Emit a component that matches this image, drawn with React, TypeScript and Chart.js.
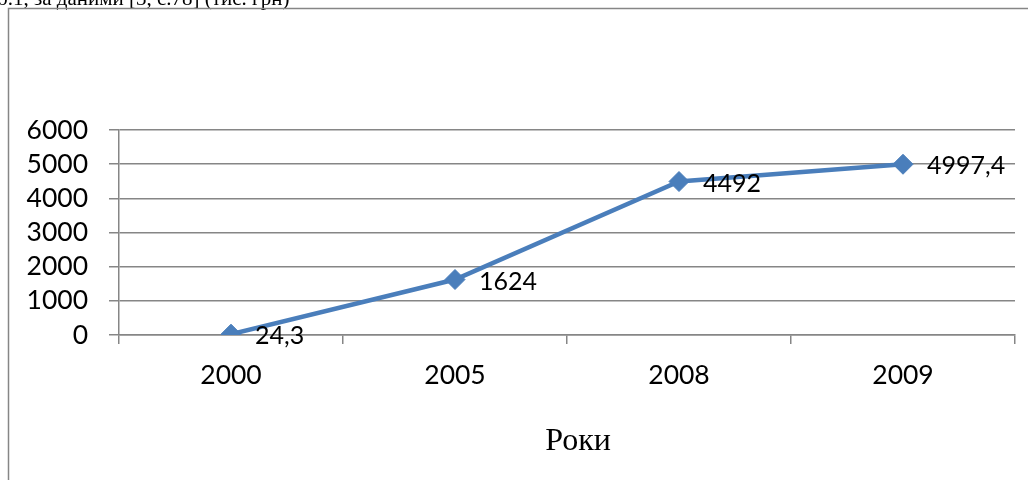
import React, { useEffect, useRef } from "react";
import { Chart, registerables } from "chart.js";

Chart.register(...registerables);

const years = ["2000", "2005", "2008", "2009"];
const values = [24.3, 1624, 4492, 4997.4];
const valueLabels = ["24,3", "1624", "4492", "4997,4"];
const yMin = 0;
const yMax = 6000;
const yStep = 1000;
const axisTitle = "Роки";
const captionText = "б.1, за даними [3, с.78] (тис. грн)";

const GRID = "#868686";
const LINE = "#4A7EBB";
const FONT = "Lato, 'Open Sans', sans-serif";

const decorPlugin = {
  id: "decor",
  beforeDraw(chart: any) {
    const ctx = chart.ctx;
    ctx.save();
    ctx.fillStyle = "#ffffff";
    ctx.fillRect(0, 0, chart.width, chart.height);
    // caption cut off at top
    ctx.fillStyle = "#000";
    ctx.font = "21px 'Liberation Serif', 'Times New Roman', serif";
    ctx.textBaseline = "alphabetic";
    ctx.textAlign = "left";
    ctx.fillText(captionText, -3, 5);
    // frame
    ctx.strokeStyle = GRID;
    ctx.lineWidth = 1.5;
    ctx.beginPath();
    ctx.moveTo(8.5, chart.height + 2);
    ctx.lineTo(8.5, 8.5);
    ctx.lineTo(chart.width + 2, 8.5);
    ctx.stroke();
    ctx.restore();
  },
  afterDraw(chart: any) {
    const ctx = chart.ctx;
    ctx.save();
    ctx.fillStyle = "#000";
    ctx.font = "32px 'Liberation Serif', 'Times New Roman', serif";
    ctx.textAlign = "center";
    ctx.textBaseline = "alphabetic";
    const area = chart.chartArea;
    ctx.fillText(axisTitle, (area.left + area.right) / 2 + 11, 450);
    ctx.restore();
  },
  afterDatasetsDraw(chart: any) {
    const ctx = chart.ctx;
    const meta = chart.getDatasetMeta(0);
    ctx.save();
    ctx.fillStyle = "#000";
    ctx.font = `25px ${FONT}`;
    ctx.textAlign = "left";
    ctx.textBaseline = "middle";
    meta.data.forEach((pt: any, i: number) => {
      ctx.fillText(valueLabels[i], pt.x + 24, pt.y + 2);
    });
    ctx.restore();
  },
};

export default function App() {
  const ref = useRef<HTMLCanvasElement | null>(null);

  useEffect(() => {
    if (!ref.current) return;
    const chart = new Chart(ref.current, {
      type: "line",
      data: {
        labels: years,
        datasets: [
          {
            data: values,
            borderColor: LINE,
            backgroundColor: LINE,
            borderWidth: 4.5,
            tension: 0,
            pointStyle: "rectRot",
            pointRadius: 10,
            pointBackgroundColor: LINE,
            pointBorderColor: LINE,
            pointBorderWidth: 1,
          },
        ],
      },
      options: {
        responsive: false,
        animation: false,
        devicePixelRatio: 1,
        layout: { autoPadding: false, padding: { top: 130, right: 13, left: 0, bottom: 0 } },
        plugins: {
          legend: { display: false },
          title: { display: false },
          tooltip: { enabled: false },
        },
        scales: {
          x: {
            type: "category",
            offset: true,
            afterFit: (scale: any) => {
              scale.height = 145;
            },
            grid: {
              display: true,
              offset: true,
              drawOnChartArea: false,
              drawTicks: true,
              tickLength: 9,
              color: GRID,
              lineWidth: 1.5,
            },
            border: { display: true, color: GRID, width: 1.5 },
            ticks: {
              color: "#000",
              font: { family: FONT, size: 26.5 },
              padding: 16,
              maxRotation: 0,
              autoSkip: false,
            },
          },
          y: {
            min: yMin,
            max: yMax,
            afterFit: (scale: any) => {
              scale.width = 119;
            },
            grid: {
              display: true,
              drawTicks: true,
              tickLength: 10,
              color: GRID,
              lineWidth: 1.5,
            },
            border: { display: true, color: GRID, width: 1.5 },
            ticks: {
              stepSize: yStep,
              autoSkip: false,
              color: "#000",
              font: { family: FONT, size: 26.5 },
              padding: 21,
              callback: (v: any) => String(v),
            },
          },
        },
      },
      plugins: [decorPlugin],
    });
    return () => chart.destroy();
  }, []);

  return (
    <canvas
      ref={ref}
      width={1028}
      height={480}
      style={{ position: "fixed", left: 0, top: 0, width: 1028, height: 480, display: "block" }}
    />
  );
}
